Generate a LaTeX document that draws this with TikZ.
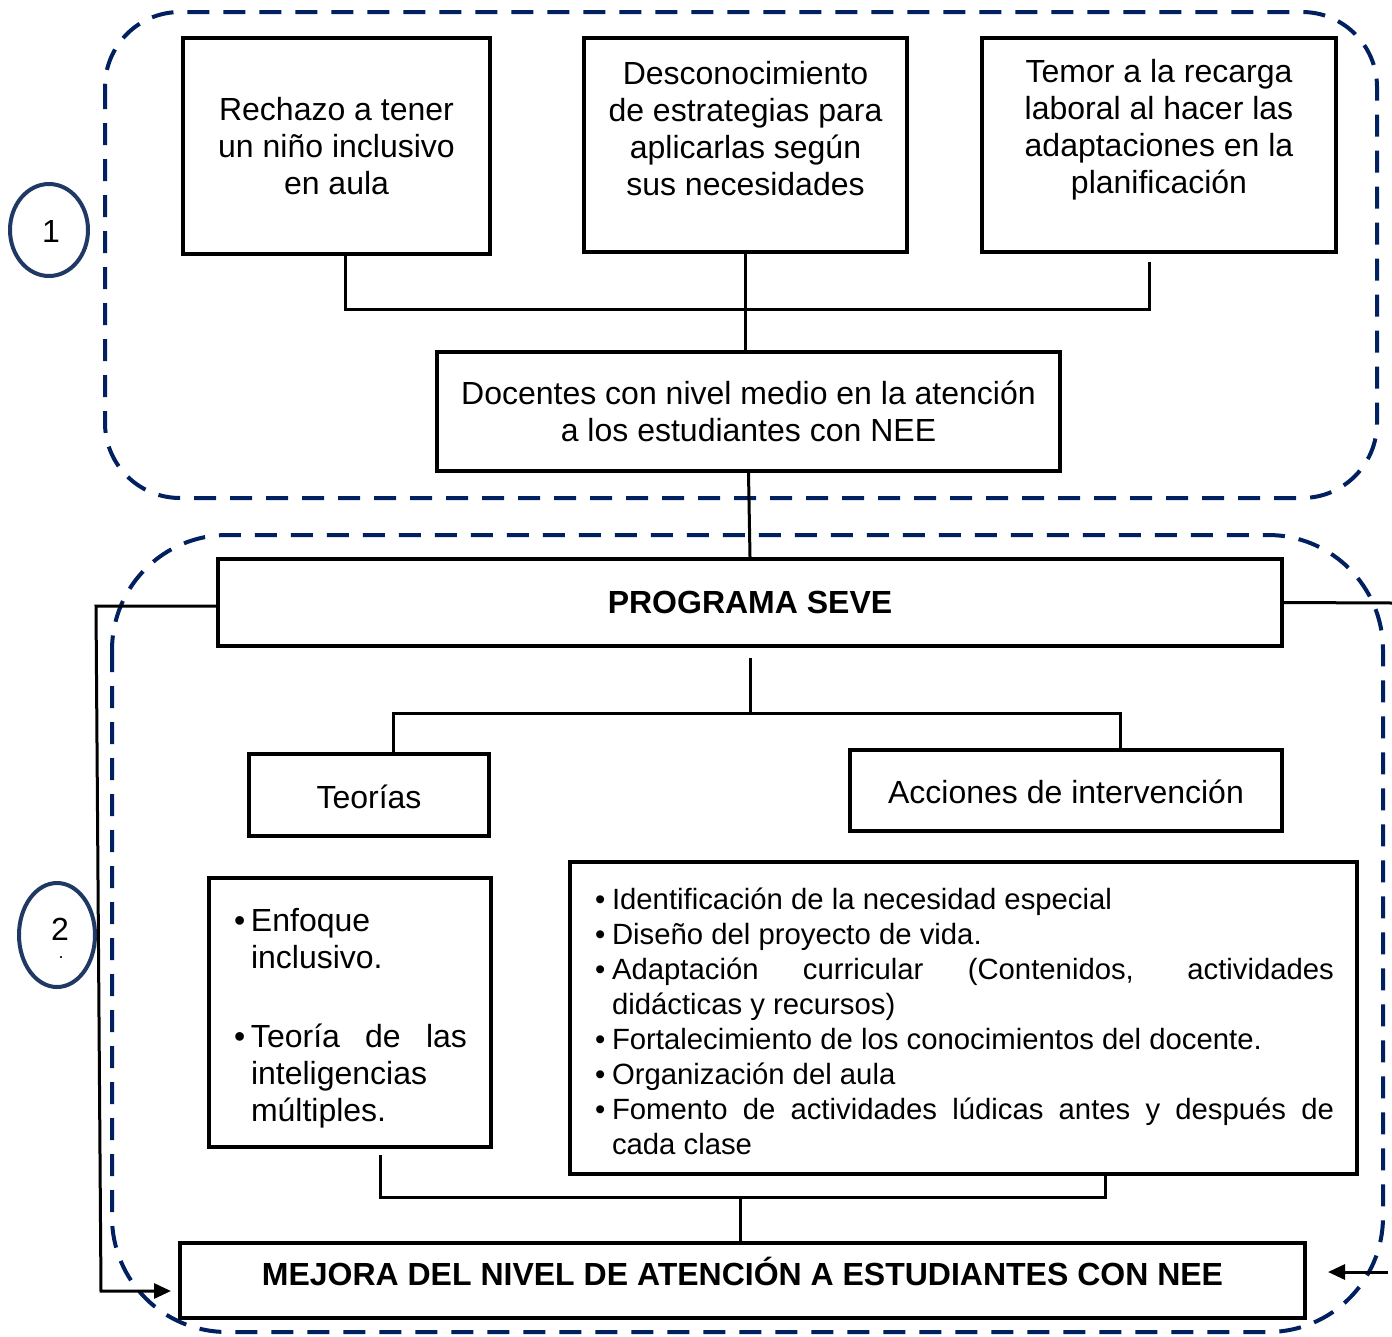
\documentclass[tikz,border=0pt]{standalone}
\usepackage{fontspec}
\setmainfont{Liberation Sans}
\usetikzlibrary{arrows.meta,shapes.geometric}
\definecolor{navy}{RGB}{0,32,96}
\definecolor{circ}{RGB}{31,56,100}
\newcommand{\bitem}[1]{\noindent\hangindent=14pt\hangafter=1\makebox[14pt][l]{\hspace{-3pt}\textbullet}#1\par}
\begin{document}
\begin{tikzpicture}[x=1pt,y=-1pt,
  box/.style={draw,line width=4pt,inner sep=0pt,align=center},
  big/.style={font=\fontsize{32}{37}\selectfont},
  bigb/.style={font=\fontsize{32}{37}\selectfont\bfseries},
  conn/.style={draw,line width=3pt},
  dashbox/.style={draw=navy,line width=4pt,dash pattern=on 22pt off 14pt},
  oval/.style={draw=circ,line width=4pt,ellipse,inner sep=0pt},
  tip/.style={-{Triangle[length=17pt,width=15pt]}}
]
\useasboundingbox (0,0) rectangle (1392,1336);

% dashed regions
\draw[dashbox,rounded corners=75pt] (105,12) rectangle (1377,498);
\draw[dashbox,rounded corners=115pt] (112,535) rectangle (1383,1332);

% circles
\node[oval,minimum width=78pt,minimum height=92pt] (c1) at (49,230) {};
\node[big] (c1t) at (51,231) {1};
\node[oval,minimum width=76pt,minimum height=104pt] (c2) at (57,935) {};
\node[big,inner sep=0pt] (c2t) at (60,929) {2};
\node[font=\fontsize{18}{18}\selectfont,inner sep=0pt] (c2d) at (61,958) {.};

% top boxes
\node[box,big,minimum width=307pt,minimum height=216pt] (A) at (336.5,146)
  {Rechazo a tener\\un niño inclusivo\\en aula};
\node[box,minimum width=323pt,minimum height=214pt] (B) at (745.5,145) {};
\node[big,align=center] (Bt) at (745.5,129)
  {Desconocimiento\\de estrategias para\\aplicarlas según\\sus necesidades};
\node[box,minimum width=354pt,minimum height=214pt] (C) at (1159,145) {};
\node[big,align=center] (Ct) at (1159,130)
  {Temor a la recarga\\laboral al hacer las\\adaptaciones en la\\planificación};
\node[box,big,minimum width=623pt,minimum height=119pt] (D) at (748.5,411.5)
  {Docentes con nivel medio en la atención\\a los estudiantes con NEE};

% top connectors
\coordinate (j1) at (345,309);
\coordinate (j2) at (1149,309);
\coordinate (j3) at (1149,262);
\draw[conn] (A.south -| j1) -- (j1) -- (j2) -- (j3);
\draw[conn] (B.south) -- (B.south |- D.north);

% programa
\node[box,bigb,minimum width=1064pt,minimum height=87pt] (E) at (750,602.5) {PROGRAMA SEVE};
\draw[conn] (D.south) -- (E.north);

\node[box,minimum width=240pt,minimum height=82pt] (G) at (369,795) {};
\node[big] (Gt) at (369,797) {Teorías};
\node[box,minimum width=432pt,minimum height=81pt] (H) at (1066,790.5) {};
\node[big] (Ht) at (1066,792) {Acciones de intervención};

\coordinate (e0) at (750,658);
\coordinate (g1) at (393,713);
\coordinate (h1) at (1120,713);
\draw[conn] (e0) -- (e0 |- g1);
\draw[conn] (G.north -| g1) -- (g1) -- (h1) -- (H.north -| h1);

% lists
\node[box,minimum width=282pt,minimum height=269pt] (I) at (350,1012.5) {};
\node (It) at (352,1018) {\begin{minipage}{230pt}\fontsize{32}{37}\selectfont
  \hyphenpenalty=10000\exhyphenpenalty=10000\tolerance=10000
  \bitem{Enfoque inclusivo.}
  \vspace{42pt}
  \bitem{Teoría de las inteligencias múltiples.}
  \end{minipage}};

\node[box,minimum width=787pt,minimum height=312pt] (J) at (963.5,1018) {};
\node (Jt) at (966,1021) {\begin{minipage}{736pt}\fontsize{29.3}{35}\selectfont
  \hyphenpenalty=10000\exhyphenpenalty=10000\tolerance=10000
  \bitem{Identificación de la necesidad especial}
  \bitem{Diseño del proyecto de vida.}
  \bitem{Adaptación curricular (Contenidos, actividades didácticas y recursos)}
  \bitem{Fortalecimiento de los conocimientos del docente.}
  \bitem{Organización del aula}
  \bitem{Fomento de actividades lúdicas antes y después de\linebreak cada clase}
  \end{minipage}};

% result
\node[box,minimum width=1125pt,minimum height=75pt] (F) at (742.5,1280.5) {};
\node[bigb] (Ft) at (742.5,1271) {MEJORA DEL NIVEL DE ATENCIÓN A ESTUDIANTES CON NEE};

\coordinate (i0) at (380,1155);
\coordinate (i1) at (380,1197);
\coordinate (k1) at (1105,1197);
\coordinate (f1) at (740,1197);
\draw[conn] (i0) -- (i1) -- (k1) -- (J.south -| k1);
\draw[conn] (f1) -- (F.north -| f1);

% side connectors
\coordinate (l1) at (96,606);
\coordinate (l2) at (101,1291);
\draw[conn,tip,shorten >=7pt] (E.west |- l1) -- (l1) -- (l2) -- (F.west |- l2);
\coordinate (r1) at (1392,603);
\draw[conn] (E.east) -- (r1);
\coordinate (r2) at (1388,1272);
\draw[conn,tip,shorten >=21pt] (r2) -- (F.east |- r2);
\end{tikzpicture}
\end{document}
